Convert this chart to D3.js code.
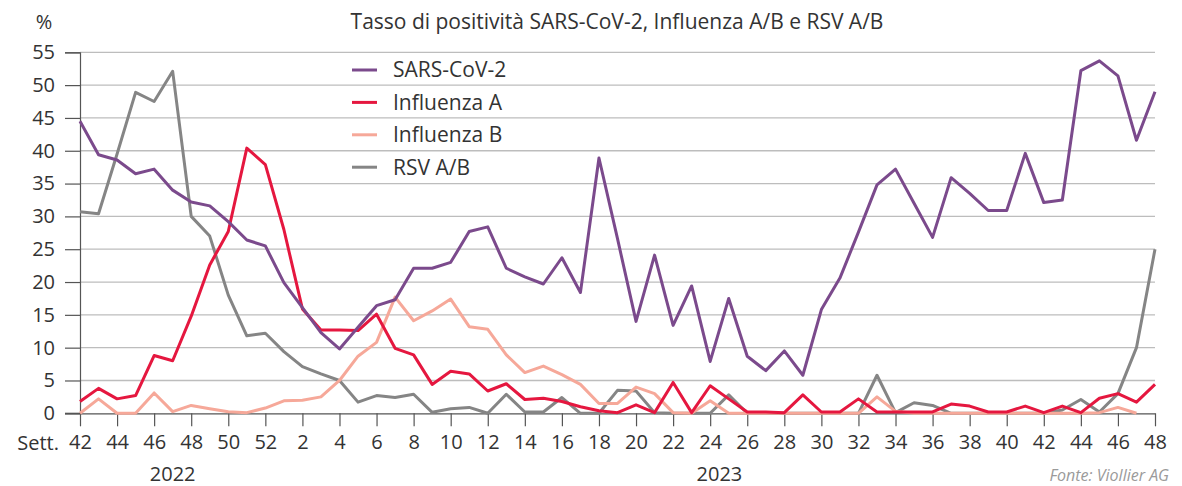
<!DOCTYPE html>
<html><head><meta charset="utf-8">
<script src="https://cdn.jsdelivr.net/npm/d3@7/dist/d3.min.js"></script>
<style>
body{margin:0;background:#fff}
svg{display:block}
text{font-family:'Open Sans',sans-serif;fill:#333}
</style>
</head><body>
<svg id="c" width="1182" height="486"></svg>
<script>
// ---- data ----
const weeks = [42,43,44,45,46,47,48,49,50,51,52,
  1,2,3,4,5,6,7,8,9,10,11,12,13,14,15,16,17,18,19,20,21,22,23,24,25,26,27,28,29,30,
  31,32,33,34,35,36,37,38,39,40,41,42,43,44,45,46,47,48];
const years = ["2022","2023"];
const yTicks = [0,5,10,15,20,25,30,35,40,45,50,55];
const seriesNames = ["SARS-CoV-2","Influenza A","Influenza B","RSV A/B"];
const sars = [44.5,39.4,38.6,36.5,37.2,34.0,32.2,31.6,29.2,26.4,25.5,
  19.9,16.1,12.3,9.8,13.1,16.4,17.3,22.1,22.1,23.0,27.7,28.4,22.1,20.8,19.7,23.7,18.4,38.9,26.6,14.0,
  24.1,13.4,19.4,7.9,17.5,8.7,6.5,9.5,5.8,15.8,20.6,27.6,34.8,37.2,32.0,26.8,35.9,33.5,30.9,30.9,
  39.6,32.1,32.5,52.2,53.7,51.4,41.6,49.0];
const fluA = [1.8,3.8,2.2,2.7,8.8,8.0,14.8,22.6,27.7,40.4,37.9,
  28.0,15.9,12.7,12.7,12.6,15.1,9.9,8.9,4.4,6.4,6.0,3.4,4.5,2.1,2.3,1.8,1.0,0.4,0.1,1.3,
  0.1,4.7,0.1,4.2,2.2,0.2,0.2,0.1,2.8,0.2,0.2,2.2,0.2,0.2,0.2,0.2,1.4,1.1,0.2,0.2,
  1.1,0.1,1.1,0.1,2.3,3.0,1.7,4.4];
const fluB = [0,2.2,0,0,3.1,0.25,1.2,0.7,0.25,0.1,0.8,
  1.9,2.0,2.5,5.0,8.7,10.8,17.7,14.1,15.6,17.4,13.2,12.8,8.9,6.2,7.2,5.9,4.4,1.5,1.5,4.0,
  3.0,0.1,0,1.9,0,0,0,0,0,0,0,0,2.5,0.3,0,0,0,0,0,0,
  0,0,0,0,0.1,0.9,0,null];
const rsv = [30.7,30.4,39.5,48.9,47.5,52.1,30.0,27.0,18.0,11.8,12.2,
  9.4,7.1,6.0,5.0,1.7,2.7,2.4,2.9,0.15,0.7,0.9,0,2.9,0.2,0.2,2.4,0,0,3.5,3.4,
  0.1,0,0,0,2.8,0,0,0,0,0,0,0,5.8,0.1,1.6,1.2,0,0,0,0,
  0,0,0.5,2.1,0.2,3.0,10.0,25.0];
const colors = ["#7b4a8c","#e5173f","#f6a899","#858585"];

// ---- chart ----
const svg = d3.select("#c");
const n = weeks.length;
const x = d3.scaleLinear().domain([0, n-1]).range([80, 1155]);
const y = d3.scaleLinear().domain([0, 55]).range([413.3, 52.3]);

// gridlines
svg.append("g").selectAll("line").data(yTicks.filter(d=>d>0)).join("line")
  .attr("x1", 80).attr("x2", 1155)
  .attr("y1", d=>y(d)).attr("y2", d=>y(d))
  .attr("stroke", "#bdbdbd").attr("stroke-width", 1.3);

// y axis
const yAxis = svg.append("g").attr("transform","translate(80,0)")
  .call(d3.axisLeft(y).tickValues(yTicks).tickSize(15).tickPadding(10));
yAxis.select(".domain").attr("stroke","#555").attr("stroke-width",1.2);
yAxis.selectAll(".tick line").attr("stroke","#555").attr("stroke-width",1.2);
yAxis.selectAll("text").style("font-size","20px").attr("fill","#333");

// x axis
const evenIdx = d3.range(n).filter(i => weeks[i] % 2 === 0);
const xAxis = svg.append("g").attr("transform","translate(0,413.3)")
  .call(d3.axisBottom(x).tickValues(evenIdx).tickFormat(i=>weeks[i]).tickSize(13).tickPadding(9).tickSizeOuter(0));
xAxis.select(".domain").attr("stroke","#555").attr("stroke-width",1.2);
xAxis.selectAll(".tick line").attr("stroke","#555").attr("stroke-width",1.2);
xAxis.selectAll("text").style("font-size","20px").attr("fill","#333");
svg.append("line").attr("x1",65).attr("x2",80).attr("y1",413.3).attr("y2",413.3)
  .attr("stroke","#555").attr("stroke-width",1.2);

svg.append("text").attr("x", 59).attr("y", 450).attr("text-anchor","end")
  .style("font-size","20px").text("Sett.");

// year labels
const idx2022 = d3.range(n).filter(i => i < weeks.indexOf(1));
const idx2023 = d3.range(n).filter(i => i >= weeks.indexOf(1));
[[idx2022, years[0]], [idx2023, years[1]]].forEach(([ix, lab]) => {
  svg.append("text").attr("x", (x(ix[0]) + x(ix[ix.length-1]))/2).attr("y", 480.5)
    .attr("text-anchor","middle").style("font-size","20px").text(lab);
});

// lines
const allSeries = [sars, fluA, fluB, rsv];
const line = d3.line().defined(d => d != null).x((d,i)=>x(i)).y(d=>y(d));
const drawOrder = [3,2,1,0];
drawOrder.forEach(k => {
  svg.append("path").datum(allSeries[k])
    .attr("fill","none").attr("stroke", colors[k]).attr("stroke-width", 3)
    .attr("stroke-linejoin","round").attr("d", line);
});

// legend
const lg = svg.append("g");
seriesNames.forEach((name, k) => {
  const ly = 70 + k*32.4;
  lg.append("line").attr("x1", 352).attr("x2", 377).attr("y1", ly).attr("y2", ly)
    .attr("stroke", colors[k]).attr("stroke-width", 3);
  lg.append("text").attr("x", 393).attr("y", ly).attr("dy","0.35em")
    .style("font-size","21px").text(name);
});

// title etc.
svg.append("text").attr("x", 617).attr("y", 29).attr("text-anchor","middle")
  .style("font-size","21px").text("Tasso di positività SARS-CoV-2, Influenza A/B e RSV A/B");
svg.append("text").attr("x", 44).attr("y", 29).attr("text-anchor","middle")
  .style("font-size","20px").text("%");
svg.append("text").attr("x", 1169).attr("y", 481).attr("text-anchor","end")
  .style("font-size","16px").style("font-style","italic")
  .style("fill","#9a9a9a").text("Fonte: Viollier AG");
</script>
</body></html>
